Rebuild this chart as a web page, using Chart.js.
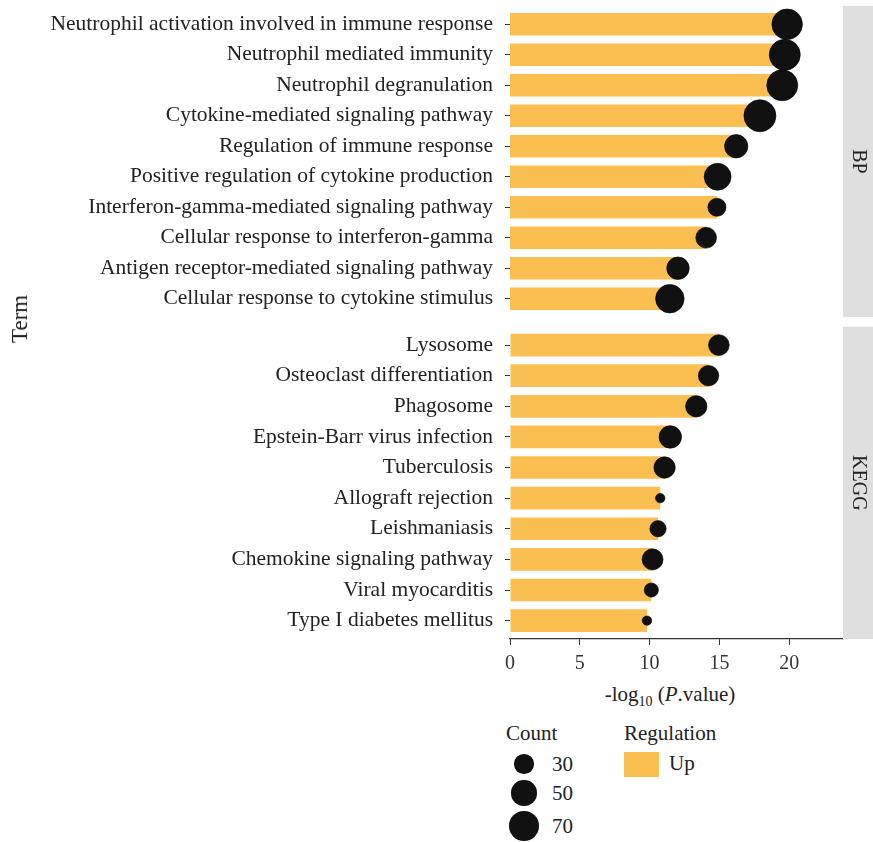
<!DOCTYPE html>
<html>
<head>
<meta charset="utf-8">
<script src="https://cdn.jsdelivr.net/npm/chart.js@4.4.1/dist/chart.umd.min.js"></script>
<style>
  body { margin: 0; background: #fff; font-family: "Liberation Serif", serif; color: #222; }
  #page { position: relative; width: 873px; height: 842px; overflow: hidden; }
  .box { position: absolute; left: 0; width: 873px; }
  .txt { position: absolute; white-space: nowrap; font-size: 21px; line-height: 24px; color: #222; }
  .dot { position: absolute; border-radius: 50%; background: #111; }
</style>
</head>
<body>
<div id="page">
  <div class="box" style="top:0;height:320px"><canvas id="bpChart"></canvas></div>
  <div class="box" style="top:320px;height:360px"><canvas id="keggChart"></canvas></div>

  <div class="txt" style="left:20px;top:319px;font-size:23px;transform:translate(-50%,-50%) rotate(-90deg)">Term</div>
  <div class="txt" style="left:670px;top:694px;transform:translate(-50%,-50%)">-log<sub style="font-size:14px;line-height:0">10</sub> (<i>P</i>.value)</div>

  <div class="txt" style="left:506px;top:721px">Count</div>
  <div id="sizeLegend"></div>
  <div class="txt" style="left:624px;top:721px">Regulation</div>
  <div style="position:absolute;left:624px;top:752px;width:35px;height:25px;background:#FBBF51"></div>
  <div class="txt" style="left:669px;top:751px">Up</div>
</div>

<script>
// BP terms (top to bottom)
const bpTerms = [
  'Neutrophil activation involved in immune response',
  'Neutrophil mediated immunity',
  'Neutrophil degranulation',
  'Cytokine-mediated signaling pathway',
  'Regulation of immune response',
  'Positive regulation of cytokine production',
  'Interferon-gamma-mediated signaling pathway',
  'Cellular response to interferon-gamma',
  'Antigen receptor-mediated signaling pathway',
  'Cellular response to cytokine stimulus'
];
const bpLogP = [19.85, 19.68, 19.5, 17.9, 16.2, 14.87, 14.82, 14.05, 12.03, 11.45];
const bpCount = [74, 76, 76, 81, 43, 57, 26, 34, 40, 64];

// KEGG pathways (top to bottom)
const keggTerms = [
  'Lysosome',
  'Osteoclast differentiation',
  'Phagosome',
  'Epstein-Barr virus infection',
  'Tuberculosis',
  'Allograft rejection',
  'Leishmaniasis',
  'Chemokine signaling pathway',
  'Viral myocarditis',
  'Type I diabetes mellitus'
];
const keggLogP = [14.96, 14.22, 13.34, 11.48, 11.07, 10.76, 10.6, 10.21, 10.12, 9.81];
const keggCount = [34, 33, 36, 40, 36, 7, 21, 35, 16, 7];

const xTicks = [0, 5, 10, 15, 20];
const legendCounts = [30, 50, 70];

const BAR = '#FBBF51';
const DOT = '#111111';
const XMAX = 23.85;
const radiusOf = (n) => 1.78 * Math.sqrt(n);

// grey facet strip on the right of the panel
const stripPlugin = {
  id: 'strip',
  afterDraw(chart, args, opts) {
    const { ctx, chartArea } = chart;
    ctx.save();
    ctx.fillStyle = '#E0DFE0';
    ctx.fillRect(chartArea.right, chartArea.top, chart.width - chartArea.right, chartArea.bottom - chartArea.top);
    ctx.fillStyle = '#222';
    ctx.font = '20px "Liberation Serif"';
    ctx.textAlign = 'center';
    ctx.textBaseline = 'middle';
    ctx.translate(chartArea.right + 15, (chartArea.top + chartArea.bottom) / 2);
    ctx.rotate(Math.PI / 2);
    ctx.fillText(opts.label, 0, 0);
    ctx.restore();
  }
};

function panel(canvasId, terms, values, counts, label, showX) {
  new Chart(document.getElementById(canvasId), {
    type: 'bar',
    data: {
      datasets: [
        {
          type: 'bubble',
          order: 0,
          data: values.map((v, i) => ({ x: v, y: i, r: radiusOf(counts[i]) })),
          backgroundColor: DOT,
          borderColor: '#000',
          borderWidth: 0.6
        },
        {
          type: 'bar',
          order: 1,
          indexAxis: 'y',
          data: values.map((v, i) => ({ x: v, y: i })),
          backgroundColor: BAR,
          categoryPercentage: 1,
          barPercentage: 0.74
        }
      ]
    },
    options: {
      responsive: true,
      maintainAspectRatio: false,
      animation: false,
      layout: { autoPadding: false, padding: { top: showX ? 6.7 : 6, right: 30, bottom: showX ? 0 : 3, left: 0 } },
      plugins: { legend: { display: false }, tooltip: { enabled: false }, strip: { label } },
      scales: {
        x: {
          type: 'linear',
          offset: false,
          min: 0,
          max: XMAX,
          display: showX,
          afterBuildTicks: (s) => { s.ticks = xTicks.map((v) => ({ value: v })); },
          afterFit: (s) => { if (showX) s.height = 41; },
          grid: { display: true, offset: false, drawOnChartArea: false, drawTicks: true, tickLength: 6, color: '#333', lineWidth: 1 },
          border: { display: true, color: '#333', width: 1.2 },
          ticks: { font: { family: 'Liberation Serif', size: 20 }, color: '#333', padding: 7, maxRotation: 0 }
        },
        y: {
          type: 'linear',
          offset: false,
          reverse: true,
          min: -0.6,
          max: terms.length - 0.4,
          afterBuildTicks: (s) => { s.ticks = terms.map((t, i) => ({ value: i })); },
          afterFit: (s) => { s.width = 510; s.paddingTop = 0; s.paddingBottom = 0; },
          grid: { display: true, offset: false, drawOnChartArea: false, drawTicks: true, tickLength: 5, color: '#333', lineWidth: 1 },
          border: { display: false },
          ticks: {
            callback: (v) => terms[v],
            font: { family: 'Liberation Serif', size: 21.5 },
            color: '#222',
            padding: 12,
            autoSkip: false
          }
        }
      }
    },
    plugins: [stripPlugin]
  });
}

panel('bpChart', bpTerms, bpLogP, bpCount, 'BP', false);
panel('keggChart', keggTerms, keggLogP, keggCount, 'KEGG', true);

// size legend
const sizeLegend = document.getElementById('sizeLegend');
const legendY = [764, 793, 826];
legendCounts.forEach((n, i) => {
  const r = radiusOf(n);
  const d = document.createElement('div');
  d.className = 'dot';
  d.style.cssText = `left:${524 - r}px;top:${legendY[i] - r}px;width:${2 * r}px;height:${2 * r}px`;
  sizeLegend.appendChild(d);
  const t = document.createElement('div');
  t.className = 'txt';
  t.textContent = n;
  t.style.cssText = `left:552px;top:${legendY[i] - 12}px`;
  sizeLegend.appendChild(t);
});
</script>
</body>
</html>
